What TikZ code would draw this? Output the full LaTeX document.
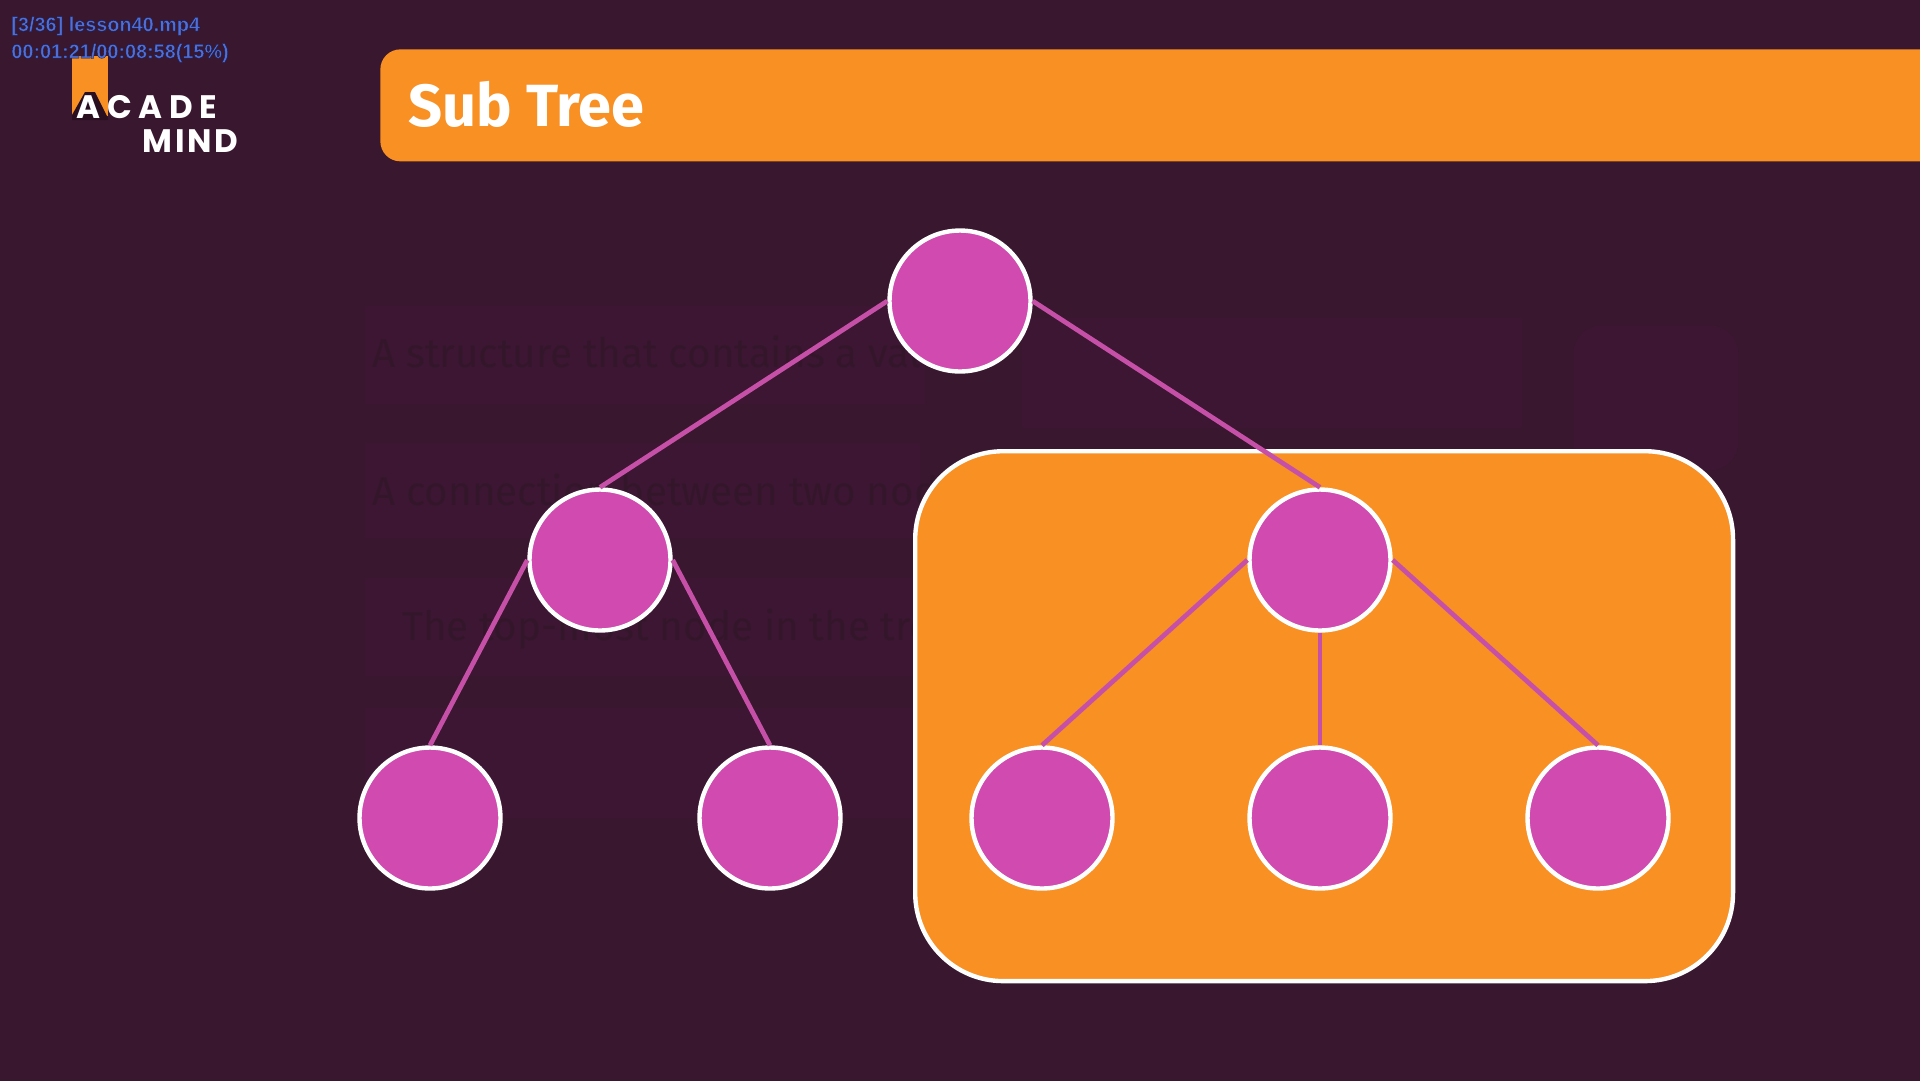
\documentclass[tikz,border=0pt]{standalone}
\usepackage{fontspec}
\setmainfont{Fira Sans}
\newfontfamily\osdfont{Liberation Sans}
\newfontfamily\logofont[LetterSpace=9]{Poppins}
\newfontfamily\logowide[LetterSpace=21]{Poppins}
\usetikzlibrary{positioning,calc}
\definecolor{bgdark}{HTML}{39172E}
\definecolor{bgpatch}{HTML}{3C1633}
\definecolor{ghosttext}{HTML}{34162B}
\definecolor{halodark}{HTML}{2A0F20}
\definecolor{bannerorange}{HTML}{F89023}
\definecolor{nodepink}{HTML}{D04AB0}
\definecolor{edgepink}{HTML}{C650A8}
\definecolor{osdblue}{HTML}{4F6ED6}
\newcommand{\osdedge}[1]{\special{pdf:code 2 Tr 0.2 w 0.08 0.1 0.3 RG}#1\special{pdf:code 0 Tr}}
\tikzset{
  treenode/.style={draw=white,circle,fill=nodepink,line width=2.5pt,minimum size=2.82cm,inner sep=0pt},
  edge/.style={draw=edgepink,line width=2.7pt},
  patchbox/.style={fill=bgpatch,draw=none,inner sep=0pt,anchor=north west},
  ghost/.style={text=ghosttext,font=\fontsize{23pt}{27pt}\selectfont,anchor=west,inner sep=0pt,align=left},
  osd/.style={text=osdblue,font=\osdfont\bfseries\fontsize{11.3pt}{13pt}\selectfont,anchor=west,inner sep=0pt},
  logo/.style={text=white,font=\fontsize{18.5pt}{20pt}\selectfont,anchor=west,inner sep=0pt}
}
\begin{document}
\begin{tikzpicture}[x=0.02cm,y=-0.02cm]
  \useasboundingbox (0,0) rectangle (1920,1080);
  \fill[bgdark,overlay] (-5,-5) rectangle (1925,1085);

  % faint leftovers of the slide underneath
  \node (patcha) [patchbox,minimum width=11.2cm,minimum height=1.96cm] at (365,306) {};
  \node (patchb) [patchbox,minimum width=11.1cm,minimum height=1.9cm] at (365,443) {};
  \node (patchc) [patchbox,minimum width=11cm,minimum height=1.96cm] at (365,578) {};
  \node (patchd) [patchbox,minimum width=11cm,minimum height=2.2cm] at (365,708) {};
  \node (patche) [patchbox,minimum width=10cm,minimum height=2.2cm] at (1022,318) {};
  \node (patchf) [patchbox,minimum width=3.3cm,minimum height=2.9cm,rounded corners=16pt] at (1573,325) {};
  \node (ghosta) [ghost] at (372,352) {A structure that contains a value};
  \node (ghostb) [ghost] at (372,490) {A connection between two nodes};
  \node (ghostc) [ghost] at (402,629) {The top-most node in the tree};

  % header
  \node (banner) [fill=bannerorange,rounded corners=20*0.02cm,anchor=north west,minimum width=31.6cm,minimum height=2.24cm,inner sep=0pt] at (380,49) {};
  \node (title) [text=white,font=\bfseries\fontsize{33.9pt}{36pt}\selectfont,anchor=west,inner sep=0pt] at (408,104) {Sub Tree};

  % logo
  \node (logomark) [fill=bannerorange,anchor=north west,minimum width=0.72cm,minimum height=1.2cm,inner sep=0pt] at (72,56) {};
  \fill[halodark] (85,92) -- (95,92) -- (108,118) -- (108,120) -- (72,120) -- (72,115) -- cycle;
  \node (acade) [logo,font=\logowide\bfseries\fontsize{18.5pt}{20pt}\selectfont] at (76,107) {ACADE};
  \node (mind) [logo,font=\logofont\bfseries\fontsize{18.5pt}{20pt}\selectfont] at (142,141) {MIND};

  % player overlay
  \node (osdfile) [osd] at (11,26) {\osdedge{[3/36] lesson40.mp4}};
  \node (osdtime) [osd] at (11,53) {\osdedge{00:01:21/00:08:58(15\%)}};

  % highlighted subtree
  \node (subtree) [draw=white,fill=bannerorange,line width=2.5pt,rounded corners=88*0.02cm,anchor=north west,minimum width=16.36cm,minimum height=10.6cm,inner sep=0pt] at (913,449) {};

  \node (root) [treenode] at (960,301) {};
  \node (left) [treenode] at (600,560) {};
  \node (right) [treenode] at (1320,560) {};
  \node (leafa) [treenode] at (430,818) {};
  \node (leafb) [treenode] at (770,818) {};
  \node (leafc) [treenode] at (1042,818) {};
  \node (leafd) [treenode] at (1320,818) {};
  \node (leafe) [treenode] at (1598,818) {};

  \draw[edge] (root.west) -- (left.north);
  \draw[edge] (root.east) -- (right.north);
  \draw[edge] (left.west) -- (leafa.north);
  \draw[edge] (left.east) -- (leafb.north);
  \draw[edge] (right.west) -- (leafc.north);
  \draw[edge] (right.south) -- (leafd.north);
  \draw[edge] (right.east) -- (leafe.north);
\end{tikzpicture}
\end{document}
